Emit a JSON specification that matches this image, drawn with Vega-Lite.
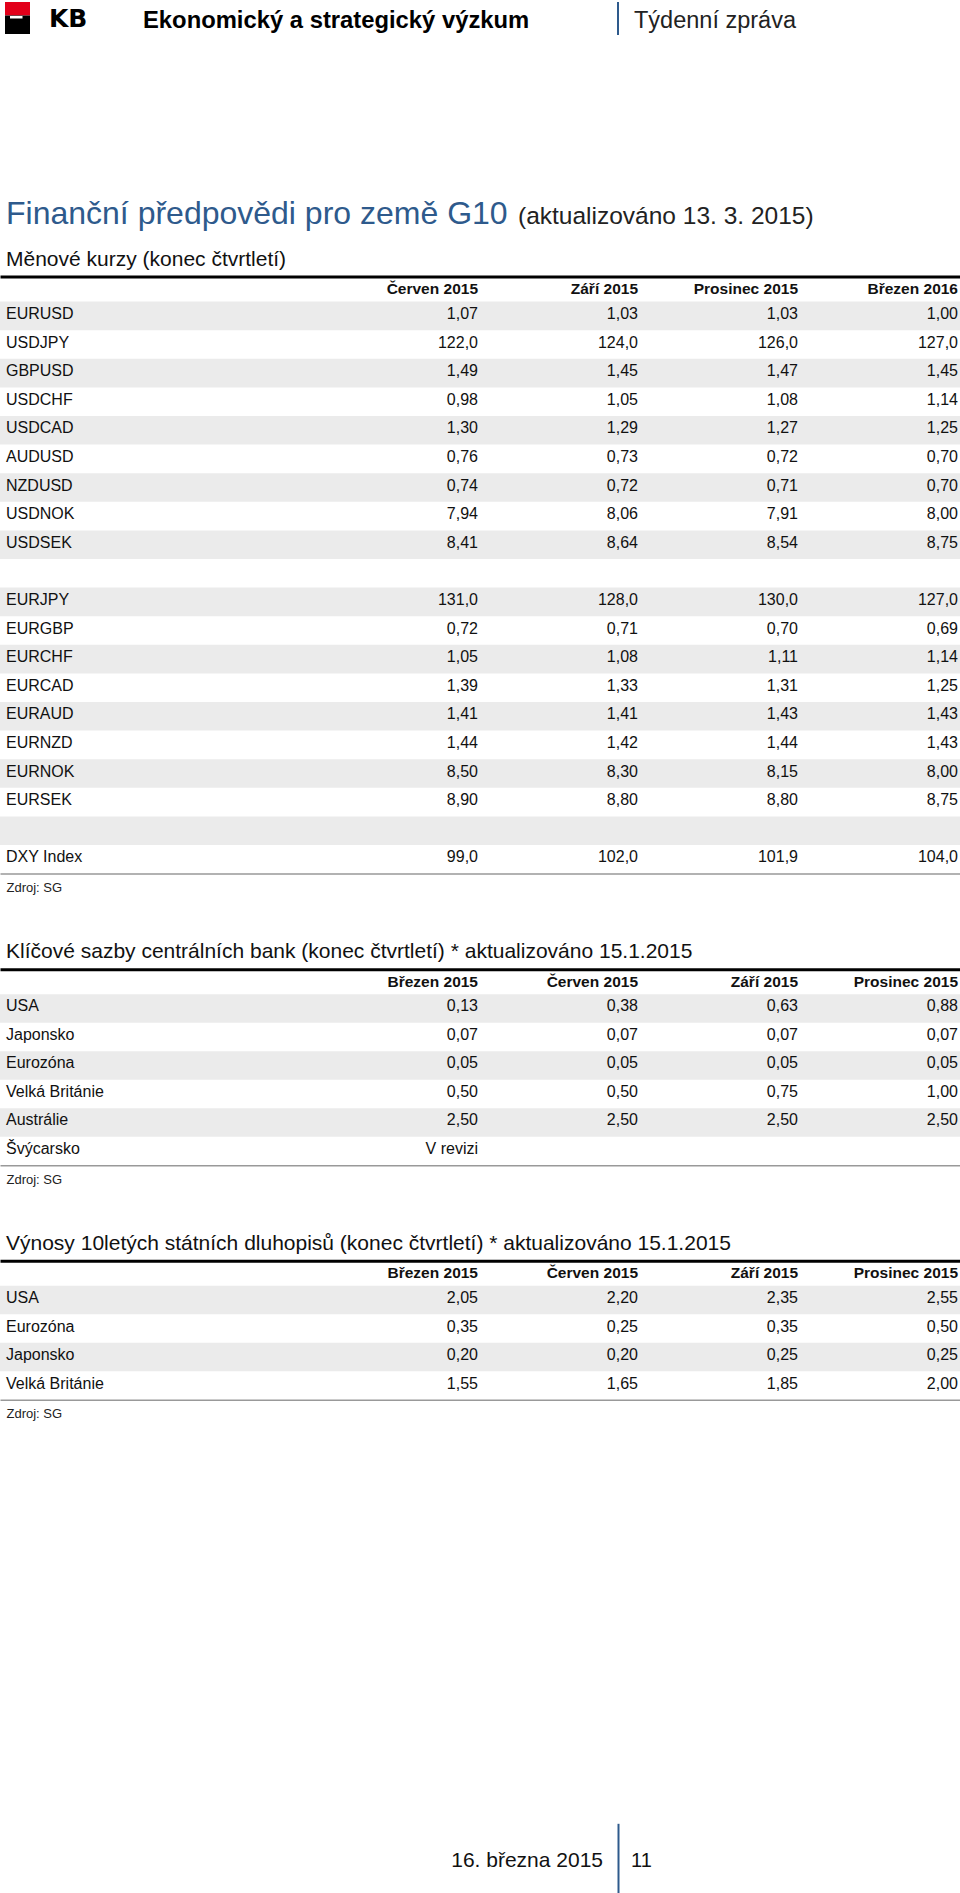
{
  "$schema": "https://vega.github.io/schema/vega-lite/v6.json",
  "padding": 0,
  "background": "white",
  "bounds": "flush",
  "spacing": 120.6,
  "config": {
    "font": "Liberation Sans",
    "view": {"stroke": null},
    "locale": {"number": {"decimal": ",", "thousands": "\u00a0", "grouping": [3], "currency": ["", " Kč"]}}
  },
  "datasets": {
    "fx": [
      {"row": "EURUSD", "Červen 2015": 1.07, "Září 2015": 1.03, "Prosinec 2015": 1.03, "Březen 2016": 1.00},
      {"row": "USDJPY", "Červen 2015": 122.0, "Září 2015": 124.0, "Prosinec 2015": 126.0, "Březen 2016": 127.0},
      {"row": "GBPUSD", "Červen 2015": 1.49, "Září 2015": 1.45, "Prosinec 2015": 1.47, "Březen 2016": 1.45},
      {"row": "USDCHF", "Červen 2015": 0.98, "Září 2015": 1.05, "Prosinec 2015": 1.08, "Březen 2016": 1.14},
      {"row": "USDCAD", "Červen 2015": 1.30, "Září 2015": 1.29, "Prosinec 2015": 1.27, "Březen 2016": 1.25},
      {"row": "AUDUSD", "Červen 2015": 0.76, "Září 2015": 0.73, "Prosinec 2015": 0.72, "Březen 2016": 0.70},
      {"row": "NZDUSD", "Červen 2015": 0.74, "Září 2015": 0.72, "Prosinec 2015": 0.71, "Březen 2016": 0.70},
      {"row": "USDNOK", "Červen 2015": 7.94, "Září 2015": 8.06, "Prosinec 2015": 7.91, "Březen 2016": 8.00},
      {"row": "USDSEK", "Červen 2015": 8.41, "Září 2015": 8.64, "Prosinec 2015": 8.54, "Březen 2016": 8.75},
      {"row": ""},
      {"row": "EURJPY", "Červen 2015": 131.0, "Září 2015": 128.0, "Prosinec 2015": 130.0, "Březen 2016": 127.0},
      {"row": "EURGBP", "Červen 2015": 0.72, "Září 2015": 0.71, "Prosinec 2015": 0.70, "Březen 2016": 0.69},
      {"row": "EURCHF", "Červen 2015": 1.05, "Září 2015": 1.08, "Prosinec 2015": 1.11, "Březen 2016": 1.14},
      {"row": "EURCAD", "Červen 2015": 1.39, "Září 2015": 1.33, "Prosinec 2015": 1.31, "Březen 2016": 1.25},
      {"row": "EURAUD", "Červen 2015": 1.41, "Září 2015": 1.41, "Prosinec 2015": 1.43, "Březen 2016": 1.43},
      {"row": "EURNZD", "Červen 2015": 1.44, "Září 2015": 1.42, "Prosinec 2015": 1.44, "Březen 2016": 1.43},
      {"row": "EURNOK", "Červen 2015": 8.50, "Září 2015": 8.30, "Prosinec 2015": 8.15, "Březen 2016": 8.00},
      {"row": "EURSEK", "Červen 2015": 8.90, "Září 2015": 8.80, "Prosinec 2015": 8.80, "Březen 2016": 8.75},
      {"row": " "},
      {"row": "DXY Index", "Červen 2015": 99.0, "Září 2015": 102.0, "Prosinec 2015": 101.9, "Březen 2016": 104.0}
    ],
    "rates": [
      {"row": "USA", "Březen 2015": 0.13, "Červen 2015": 0.38, "Září 2015": 0.63, "Prosinec 2015": 0.88},
      {"row": "Japonsko", "Březen 2015": 0.07, "Červen 2015": 0.07, "Září 2015": 0.07, "Prosinec 2015": 0.07},
      {"row": "Eurozóna", "Březen 2015": 0.05, "Červen 2015": 0.05, "Září 2015": 0.05, "Prosinec 2015": 0.05},
      {"row": "Velká Británie", "Březen 2015": 0.50, "Červen 2015": 0.50, "Září 2015": 0.75, "Prosinec 2015": 1.00},
      {"row": "Austrálie", "Březen 2015": 2.50, "Červen 2015": 2.50, "Září 2015": 2.50, "Prosinec 2015": 2.50},
      {"row": "Švýcarsko", "Březen 2015": "V revizi"}
    ],
    "yields": [
      {"row": "USA", "Březen 2015": 2.05, "Červen 2015": 2.20, "Září 2015": 2.35, "Prosinec 2015": 2.55},
      {"row": "Eurozóna", "Březen 2015": 0.35, "Červen 2015": 0.25, "Září 2015": 0.35, "Prosinec 2015": 0.50},
      {"row": "Japonsko", "Březen 2015": 0.20, "Červen 2015": 0.20, "Září 2015": 0.25, "Prosinec 2015": 0.25},
      {"row": "Velká Británie", "Březen 2015": 1.55, "Červen 2015": 1.65, "Září 2015": 1.85, "Prosinec 2015": 2.00}
    ]
  },
  "vconcat": [
    {
      "width": 960,
      "height": 180.1,
      "data": {"values": [{}]},
      "layer": [
        {"mark": {"type": "rect", "color": "#e2001a"}, "encoding": {"x": {"value": 5}, "x2": {"value": 30}, "y": {"value": 2}, "y2": {"value": 15.5}}},
        {"mark": {"type": "rect", "color": "#000000"}, "encoding": {"x": {"value": 5}, "x2": {"value": 30}, "y": {"value": 15.5}, "y2": {"value": 34}}},
        {"mark": {"type": "rect", "color": "#ffffff"}, "encoding": {"x": {"value": 10}, "x2": {"value": 22.5}, "y": {"value": 16}, "y2": {"value": 18.5}}},
        {"mark": {"type": "text", "text": "KB", "font": "DejaVu Sans", "fontWeight": "bold", "fontSize": 25, "align": "left", "baseline": "alphabetic", "color": "#000"}, "encoding": {"x": {"value": 49}, "y": {"value": 27}}},
        {"mark": {"type": "text", "text": "Ekonomický a strategický výzkum", "fontWeight": "bold", "fontSize": 23.8, "align": "left", "baseline": "alphabetic", "color": "#000"}, "encoding": {"x": {"value": 143}, "y": {"value": 27.5}}},
        {"mark": {"type": "rule", "color": "#2e5a8c", "strokeWidth": 2}, "encoding": {"x": {"value": 618}, "y": {"value": 2}, "y2": {"value": 35}}},
        {"mark": {"type": "text", "text": "Týdenní zpráva", "fontSize": 23.5, "align": "left", "baseline": "alphabetic", "color": "#222"}, "encoding": {"x": {"value": 634}, "y": {"value": 27.5}}},
        {"mark": {"type": "text", "text": "Finanční předpovědi pro země G10", "fontSize": 32, "align": "left", "baseline": "alphabetic", "color": "#2e5a8c"}, "encoding": {"x": {"value": 6}, "y": {"value": 224}}},
        {"mark": {"type": "text", "text": "(aktualizováno 13. 3. 2015)", "fontSize": 24.5, "align": "left", "baseline": "alphabetic", "color": "#222"}, "encoding": {"x": {"value": 518}, "y": {"value": 224}}}
      ]
    },
    {
      "width": 960,
      "height": 572,
      "title": {"text": "Měnové kurzy (konec čtvrtletí)", "anchor": "start", "frame": "group", "dx": 6, "offset": 7, "fontSize": 21, "fontWeight": "normal", "color": "#111"},
      "data": {"name": "fx"},
      "resolve": {"axis": {"x": "independent"}},
      "layer": [
        {
          "transform": [{"window": [{"op": "row_number", "as": "n"}]}, {"filter": "datum.n % 2 == 1"}],
          "mark": {"type": "rect", "color": "#ebebeb"},
          "encoding": {"y": {"field": "row", "type": "nominal", "axis": null, "scale": {"domain": ["EURUSD", "USDJPY", "GBPUSD", "USDCHF", "USDCAD", "AUDUSD", "NZDUSD", "USDNOK", "USDSEK", "", "EURJPY", "EURGBP", "EURCHF", "EURCAD", "EURAUD", "EURNZD", "EURNOK", "EURSEK", " ", "DXY Index"], "paddingInner": 0, "paddingOuter": 0}}}
        },
        {
          "mark": {"type": "text", "align": "left", "baseline": "middle", "dx": 6, "dy": -2, "fontSize": 16, "color": "#111"},
          "encoding": {
            "y": {"field": "row", "type": "nominal", "axis": null},
            "x": {"datum": "_label", "type": "nominal", "bandPosition": 0,
                  "scale": {"type": "band", "domain": ["_label", "_gap", "Červen 2015", "Září 2015", "Prosinec 2015", "Březen 2016"], "paddingInner": 0, "paddingOuter": 0},
                  "axis": {"orient": "bottom", "domain": true, "domainColor": "#999999", "domainWidth": 1.5, "ticks": false, "tickSize": 0, "labels": false, "grid": false, "title": "Zdroj: SG", "titleFontSize": 13, "titleFontWeight": "normal", "titleColor": "#222", "titleAnchor": "start", "titleAlign": "left", "titleBaseline": "middle", "titleX": 6, "titleY": 14, "titlePadding": 0}},
            "text": {"field": "row"}
          }
        },
        {
          "transform": [{"fold": ["Červen 2015", "Září 2015", "Prosinec 2015", "Březen 2016"], "as": ["col", "v"]}, {"filter": "isNumber(datum.v) && datum.v < 50"}],
          "mark": {"type": "text", "align": "right", "baseline": "middle", "dx": -2, "dy": -2, "fontSize": 16, "color": "#111"},
          "encoding": {
            "y": {"field": "row", "type": "nominal", "axis": null},
            "x": {"field": "col", "type": "nominal", "bandPosition": 1,
                  "scale": {"type": "band", "domain": ["_label", "_gap", "Červen 2015", "Září 2015", "Prosinec 2015", "Březen 2016"], "paddingInner": 0, "paddingOuter": 0},
                  "axis": {"orient": "top", "offset": 25, "domain": true, "domainColor": "#000", "domainWidth": 3, "ticks": false, "tickSize": 0, "grid": false, "labelPadding": -12, "labelBaseline": "middle", "labelAlign": "right", "labelAngle": 0, "labelOffset": 78, "labelFontSize": 15.5, "labelFontWeight": "bold", "labelColor": "#111", "labelExpr": "indexof(datum.value, '_') == 0 ? '' : datum.label", "labelOverlap": false, "labelBound": false, "labelFlush": false, "title": null}},
            "text": {"field": "v", "type": "quantitative", "format": ".2f"}
          }
        },
        {
          "transform": [{"fold": ["Červen 2015", "Září 2015", "Prosinec 2015", "Březen 2016"], "as": ["col", "v"]}, {"filter": "isNumber(datum.v) && datum.v >= 50"}],
          "mark": {"type": "text", "align": "right", "baseline": "middle", "dx": -2, "dy": -2, "fontSize": 16, "color": "#111"},
          "encoding": {
            "y": {"field": "row", "type": "nominal", "axis": null},
            "x": {"field": "col", "type": "nominal", "bandPosition": 1, "axis": null,
                  "scale": {"type": "band", "domain": ["_label", "_gap", "Červen 2015", "Září 2015", "Prosinec 2015", "Březen 2016"], "paddingInner": 0, "paddingOuter": 0}},
            "text": {"field": "v", "type": "quantitative", "format": ".1f"}
          }
        }
      ]
    },
    {
      "width": 960,
      "height": 171,
      "title": {"text": "Klíčové sazby centrálních bank (konec čtvrtletí) * aktualizováno 15.1.2015", "anchor": "start", "frame": "group", "dx": 6, "offset": 7, "fontSize": 21, "fontWeight": "normal", "color": "#111"},
      "data": {"name": "rates"},
      "resolve": {"axis": {"x": "independent"}},
      "layer": [
        {
          "transform": [{"window": [{"op": "row_number", "as": "n"}]}, {"filter": "datum.n % 2 == 1"}],
          "mark": {"type": "rect", "color": "#ebebeb"},
          "encoding": {"y": {"field": "row", "type": "nominal", "axis": null, "scale": {"domain": ["USA", "Japonsko", "Eurozóna", "Velká Británie", "Austrálie", "Švýcarsko"], "paddingInner": 0, "paddingOuter": 0}}}
        },
        {
          "mark": {"type": "text", "align": "left", "baseline": "middle", "dx": 6, "dy": -2, "fontSize": 16, "color": "#111"},
          "encoding": {
            "y": {"field": "row", "type": "nominal", "axis": null},
            "x": {"datum": "_label", "type": "nominal", "bandPosition": 0,
                  "scale": {"type": "band", "domain": ["_label", "_gap", "Březen 2015", "Červen 2015", "Září 2015", "Prosinec 2015"], "paddingInner": 0, "paddingOuter": 0},
                  "axis": {"orient": "bottom", "domain": true, "domainColor": "#999999", "domainWidth": 1.5, "ticks": false, "tickSize": 0, "labels": false, "grid": false, "title": "Zdroj: SG", "titleFontSize": 13, "titleFontWeight": "normal", "titleColor": "#222", "titleAnchor": "start", "titleAlign": "left", "titleBaseline": "middle", "titleX": 6, "titleY": 14, "titlePadding": 0}},
            "text": {"field": "row"}
          }
        },
        {
          "transform": [{"fold": ["Březen 2015", "Červen 2015", "Září 2015", "Prosinec 2015"], "as": ["col", "v"]}, {"filter": "isNumber(datum.v)"}],
          "mark": {"type": "text", "align": "right", "baseline": "middle", "dx": -2, "dy": -2, "fontSize": 16, "color": "#111"},
          "encoding": {
            "y": {"field": "row", "type": "nominal", "axis": null},
            "x": {"field": "col", "type": "nominal", "bandPosition": 1,
                  "scale": {"type": "band", "domain": ["_label", "_gap", "Březen 2015", "Červen 2015", "Září 2015", "Prosinec 2015"], "paddingInner": 0, "paddingOuter": 0},
                  "axis": {"orient": "top", "offset": 25, "domain": true, "domainColor": "#000", "domainWidth": 3, "ticks": false, "tickSize": 0, "grid": false, "labelPadding": -12, "labelBaseline": "middle", "labelAlign": "right", "labelAngle": 0, "labelOffset": 78, "labelFontSize": 15.5, "labelFontWeight": "bold", "labelColor": "#111", "labelExpr": "indexof(datum.value, '_') == 0 ? '' : datum.label", "labelOverlap": false, "labelBound": false, "labelFlush": false, "title": null}},
            "text": {"field": "v", "type": "quantitative", "format": ".2f"}
          }
        },
        {
          "transform": [{"fold": ["Březen 2015", "Červen 2015", "Září 2015", "Prosinec 2015"], "as": ["col", "v"]}, {"filter": "isString(datum.v)"}],
          "mark": {"type": "text", "align": "right", "baseline": "middle", "dx": -2, "dy": -2, "fontSize": 16, "color": "#111"},
          "encoding": {
            "y": {"field": "row", "type": "nominal", "axis": null},
            "x": {"field": "col", "type": "nominal", "bandPosition": 1, "axis": null,
                  "scale": {"type": "band", "domain": ["_label", "_gap", "Březen 2015", "Červen 2015", "Září 2015", "Prosinec 2015"], "paddingInner": 0, "paddingOuter": 0}},
            "text": {"field": "v", "type": "nominal"}
          }
        }
      ]
    },
    {
      "width": 960,
      "height": 114,
      "title": {"text": "Výnosy 10letých státních dluhopisů (konec čtvrtletí) * aktualizováno 15.1.2015", "anchor": "start", "frame": "group", "dx": 6, "offset": 7, "fontSize": 21, "fontWeight": "normal", "color": "#111"},
      "data": {"name": "yields"},
      "resolve": {"axis": {"x": "independent"}},
      "layer": [
        {
          "transform": [{"window": [{"op": "row_number", "as": "n"}]}, {"filter": "datum.n % 2 == 1"}],
          "mark": {"type": "rect", "color": "#ebebeb"},
          "encoding": {"y": {"field": "row", "type": "nominal", "axis": null, "scale": {"domain": ["USA", "Eurozóna", "Japonsko", "Velká Británie"], "paddingInner": 0, "paddingOuter": 0}}}
        },
        {
          "mark": {"type": "text", "align": "left", "baseline": "middle", "dx": 6, "dy": -2, "fontSize": 16, "color": "#111"},
          "encoding": {
            "y": {"field": "row", "type": "nominal", "axis": null},
            "x": {"datum": "_label", "type": "nominal", "bandPosition": 0,
                  "scale": {"type": "band", "domain": ["_label", "_gap", "Březen 2015", "Červen 2015", "Září 2015", "Prosinec 2015"], "paddingInner": 0, "paddingOuter": 0},
                  "axis": {"orient": "bottom", "domain": true, "domainColor": "#999999", "domainWidth": 1.5, "ticks": false, "tickSize": 0, "labels": false, "grid": false, "title": "Zdroj: SG", "titleFontSize": 13, "titleFontWeight": "normal", "titleColor": "#222", "titleAnchor": "start", "titleAlign": "left", "titleBaseline": "middle", "titleX": 6, "titleY": 14, "titlePadding": 0}},
            "text": {"field": "row"}
          }
        },
        {
          "transform": [{"fold": ["Březen 2015", "Červen 2015", "Září 2015", "Prosinec 2015"], "as": ["col", "v"]}, {"filter": "isNumber(datum.v)"}],
          "mark": {"type": "text", "align": "right", "baseline": "middle", "dx": -2, "dy": -2, "fontSize": 16, "color": "#111"},
          "encoding": {
            "y": {"field": "row", "type": "nominal", "axis": null},
            "x": {"field": "col", "type": "nominal", "bandPosition": 1,
                  "scale": {"type": "band", "domain": ["_label", "_gap", "Březen 2015", "Červen 2015", "Září 2015", "Prosinec 2015"], "paddingInner": 0, "paddingOuter": 0},
                  "axis": {"orient": "top", "offset": 25, "domain": true, "domainColor": "#000", "domainWidth": 3, "ticks": false, "tickSize": 0, "grid": false, "labelPadding": -12, "labelBaseline": "middle", "labelAlign": "right", "labelAngle": 0, "labelOffset": 78, "labelFontSize": 15.5, "labelFontWeight": "bold", "labelColor": "#111", "labelExpr": "indexof(datum.value, '_') == 0 ? '' : datum.label", "labelOverlap": false, "labelBound": false, "labelFlush": false, "title": null}},
            "text": {"field": "v", "type": "quantitative", "format": ".2f"}
          }
        }
      ]
    },
    {
      "width": 960,
      "height": 373.4,
      "data": {"values": [{}]},
      "layer": [
        {"mark": {"type": "text", "text": "16. března 2015", "fontSize": 21, "align": "right", "baseline": "alphabetic", "color": "#111"}, "encoding": {"x": {"value": 603}, "y": {"value": 346.4}}},
        {"mark": {"type": "rule", "color": "#2e5a8c", "strokeWidth": 2}, "encoding": {"x": {"value": 618.5}, "y": {"value": 303.4}, "y2": {"value": 373.4}}},
        {"mark": {"type": "text", "text": "11", "fontSize": 20, "align": "left", "baseline": "alphabetic", "color": "#111"}, "encoding": {"x": {"value": 631}, "y": {"value": 346.4}}}
      ]
    }
  ]
}
